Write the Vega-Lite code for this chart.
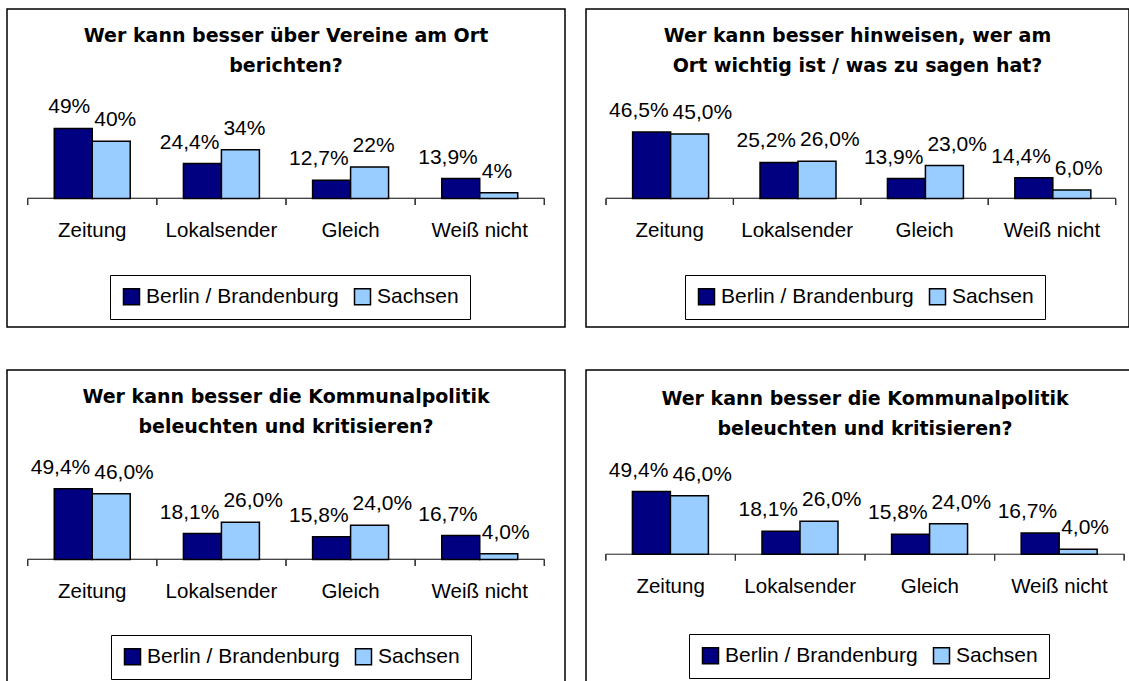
{
  "$schema": "https://vega.github.io/schema/vega-lite/v6.json",
  "background": "white",
  "padding": {"left": 6, "top": 8, "right": 0, "bottom": 0},
  "datasets": {
    "d": [
      {"panel": 1, "cat": "Zeitung", "series": "Berlin / Brandenburg", "value": 49, "label": "49%"},
      {"panel": 1, "cat": "Zeitung", "series": "Sachsen", "value": 40, "label": "40%"},
      {"panel": 1, "cat": "Lokalsender", "series": "Berlin / Brandenburg", "value": 24.4, "label": "24,4%"},
      {"panel": 1, "cat": "Lokalsender", "series": "Sachsen", "value": 34, "label": "34%"},
      {"panel": 1, "cat": "Gleich", "series": "Berlin / Brandenburg", "value": 12.7, "label": "12,7%"},
      {"panel": 1, "cat": "Gleich", "series": "Sachsen", "value": 22, "label": "22%"},
      {"panel": 1, "cat": "Weiß nicht", "series": "Berlin / Brandenburg", "value": 13.9, "label": "13,9%"},
      {"panel": 1, "cat": "Weiß nicht", "series": "Sachsen", "value": 4, "label": "4%"},
      {"panel": 2, "cat": "Zeitung", "series": "Berlin / Brandenburg", "value": 46.5, "label": "46,5%"},
      {"panel": 2, "cat": "Zeitung", "series": "Sachsen", "value": 45.0, "label": "45,0%"},
      {"panel": 2, "cat": "Lokalsender", "series": "Berlin / Brandenburg", "value": 25.2, "label": "25,2%"},
      {"panel": 2, "cat": "Lokalsender", "series": "Sachsen", "value": 26.0, "label": "26,0%"},
      {"panel": 2, "cat": "Gleich", "series": "Berlin / Brandenburg", "value": 13.9, "label": "13,9%"},
      {"panel": 2, "cat": "Gleich", "series": "Sachsen", "value": 23.0, "label": "23,0%"},
      {"panel": 2, "cat": "Weiß nicht", "series": "Berlin / Brandenburg", "value": 14.4, "label": "14,4%"},
      {"panel": 2, "cat": "Weiß nicht", "series": "Sachsen", "value": 6.0, "label": "6,0%"},
      {"panel": 3, "cat": "Zeitung", "series": "Berlin / Brandenburg", "value": 49.4, "label": "49,4%"},
      {"panel": 3, "cat": "Zeitung", "series": "Sachsen", "value": 46.0, "label": "46,0%"},
      {"panel": 3, "cat": "Lokalsender", "series": "Berlin / Brandenburg", "value": 18.1, "label": "18,1%"},
      {"panel": 3, "cat": "Lokalsender", "series": "Sachsen", "value": 26.0, "label": "26,0%"},
      {"panel": 3, "cat": "Gleich", "series": "Berlin / Brandenburg", "value": 15.8, "label": "15,8%"},
      {"panel": 3, "cat": "Gleich", "series": "Sachsen", "value": 24.0, "label": "24,0%"},
      {"panel": 3, "cat": "Weiß nicht", "series": "Berlin / Brandenburg", "value": 16.7, "label": "16,7%"},
      {"panel": 3, "cat": "Weiß nicht", "series": "Sachsen", "value": 4.0, "label": "4,0%"},
      {"panel": 4, "cat": "Zeitung", "series": "Berlin / Brandenburg", "value": 49.4, "label": "49,4%"},
      {"panel": 4, "cat": "Zeitung", "series": "Sachsen", "value": 46.0, "label": "46,0%"},
      {"panel": 4, "cat": "Lokalsender", "series": "Berlin / Brandenburg", "value": 18.1, "label": "18,1%"},
      {"panel": 4, "cat": "Lokalsender", "series": "Sachsen", "value": 26.0, "label": "26,0%"},
      {"panel": 4, "cat": "Gleich", "series": "Berlin / Brandenburg", "value": 15.8, "label": "15,8%"},
      {"panel": 4, "cat": "Gleich", "series": "Sachsen", "value": 24.0, "label": "24,0%"},
      {"panel": 4, "cat": "Weiß nicht", "series": "Berlin / Brandenburg", "value": 16.7, "label": "16,7%"},
      {"panel": 4, "cat": "Weiß nicht", "series": "Sachsen", "value": 4.0, "label": "4,0%"}
    ]
  },
  "data": {"name": "d"},
  "spacing": 41,
  "resolve": {"scale": {"color": "independent"}},
  "vconcat": [
    {
      "spacing": 19,
      "resolve": {"scale": {"color": "independent"}},
      "hconcat": [
        {
          "width": 558, "height": 318,
          "title": {"text": ["Wer kann besser über Vereine am Ort", "berichten?"], "offset": -67},
          "transform": [{"filter": "datum.panel == 1"}],
          "encoding": {
            "x": {"field": "cat", "type": "nominal", "sort": ["Zeitung", "Lokalsender", "Gleich", "Weiß nicht"], "scale": {"paddingInner": 0, "paddingOuter": 0.16}, "axis": null},
            "y": {"field": "value", "type": "quantitative", "scale": {"domain": [-89.9, 132.5], "nice": false, "zero": false}, "axis": null}
          },
          "layer": [
            {"mark": {"type": "tick", "orient": "horizontal", "size": 129.2, "thickness": 1.2, "color": "#333"},
             "encoding": {"y": {"datum": 0, "type": "quantitative"}}},
            {"mark": {"type": "rule", "color": "#333", "strokeWidth": 1.2},
             "encoding": {"x": {"field": "cat", "type": "nominal", "bandPosition": 0, "sort": ["Zeitung", "Lokalsender", "Gleich", "Weiß nicht"]},
                          "y": {"datum": 0, "type": "quantitative"}, "y2": {"datum": -4.5}}},
            {"transform": [{"filter": "datum.cat == 'Weiß nicht'"}],
             "mark": {"type": "rule", "color": "#333", "strokeWidth": 1.2},
             "encoding": {"x": {"field": "cat", "type": "nominal", "bandPosition": 1, "sort": ["Zeitung", "Lokalsender", "Gleich", "Weiß nicht"]},
                          "y": {"datum": 0, "type": "quantitative"}, "y2": {"datum": -4.5}}},
            {"mark": {"type": "bar", "stroke": "black", "strokeWidth": 1.5},
             "encoding": {
               "xOffset": {"field": "series", "type": "nominal", "sort": ["Berlin / Brandenburg", "Sachsen"], "scale": {"paddingInner": 0, "paddingOuter": 0.7}},
               "y2": {"datum": 0},
               "color": {"field": "series", "type": "nominal", "scale": {"domain": ["Berlin / Brandenburg", "Sachsen"], "range": ["#000080", "#99CCFF"]},
                         "legend": {"title": null, "orient": "none", "legendX": 103, "legendY": 266, "direction": "horizontal", "padding": 11, "strokeColor": "black", "fillColor": "white", "symbolType": "square", "symbolSize": 256, "symbolStrokeColor": "black", "symbolStrokeWidth": 1.5, "symbolOpacity": 1, "labelFontSize": 21, "labelFont": "Liberation Sans", "labelColor": "black", "labelOffset": 4, "columnPadding": 12, "labelLimit": 0}}
             }},
            {"transform": [{"filter": "datum.series == 'Berlin / Brandenburg'"}],
             "mark": {"type": "text", "align": "right", "baseline": "alphabetic", "dx": 17, "dy": -15, "fontSize": 21, "font": "Liberation Sans", "color": "black"},
             "encoding": {"xOffset": {"field": "series", "type": "nominal", "sort": ["Berlin / Brandenburg", "Sachsen"], "scale": {"paddingInner": 0, "paddingOuter": 0.7}}, "text": {"field": "label"}}},
            {"transform": [{"filter": "datum.series == 'Sachsen'"}],
             "mark": {"type": "text", "align": "left", "baseline": "alphabetic", "dx": -17, "dy": -15, "fontSize": 21, "font": "Liberation Sans", "color": "black"},
             "encoding": {"xOffset": {"field": "series", "type": "nominal", "sort": ["Berlin / Brandenburg", "Sachsen"], "scale": {"paddingInner": 0, "paddingOuter": 0.7}}, "text": {"field": "label"}}},
            {"transform": [{"filter": "datum.series == 'Sachsen'"}],
             "mark": {"type": "text", "align": "center", "baseline": "middle", "dy": 32.7, "fontSize": 20.5, "font": "Liberation Sans", "color": "black"},
             "encoding": {"y": {"datum": 0, "type": "quantitative"}, "text": {"field": "cat"}}}
          ]
        },
        {
          "width": 543, "height": 318,
          "title": {"text": ["Wer kann besser hinweisen, wer am", "Ort wichtig ist / was zu sagen hat?"], "offset": -67},
          "transform": [{"filter": "datum.panel == 2"}],
          "encoding": {
            "x": {"field": "cat", "type": "nominal", "sort": ["Zeitung", "Lokalsender", "Gleich", "Weiß nicht"], "scale": {"paddingInner": 0, "paddingOuter": 0.131, "align": 0.6}, "axis": null},
            "y": {"field": "value", "type": "quantitative", "scale": {"domain": [-89.9, 132.5], "nice": false, "zero": false}, "axis": null}
          },
          "layer": [
            {"mark": {"type": "tick", "orient": "horizontal", "size": 127.4, "thickness": 1.2, "color": "#333"},
             "encoding": {"y": {"datum": 0, "type": "quantitative"}}},
            {"mark": {"type": "rule", "color": "#333", "strokeWidth": 1.2},
             "encoding": {"x": {"field": "cat", "type": "nominal", "bandPosition": 0, "sort": ["Zeitung", "Lokalsender", "Gleich", "Weiß nicht"]},
                          "y": {"datum": 0, "type": "quantitative"}, "y2": {"datum": -4.5}}},
            {"transform": [{"filter": "datum.cat == 'Weiß nicht'"}],
             "mark": {"type": "rule", "color": "#333", "strokeWidth": 1.2},
             "encoding": {"x": {"field": "cat", "type": "nominal", "bandPosition": 1, "sort": ["Zeitung", "Lokalsender", "Gleich", "Weiß nicht"]},
                          "y": {"datum": 0, "type": "quantitative"}, "y2": {"datum": -4.5}}},
            {"mark": {"type": "bar", "stroke": "black", "strokeWidth": 1.5},
             "encoding": {
               "xOffset": {"field": "series", "type": "nominal", "sort": ["Berlin / Brandenburg", "Sachsen"], "scale": {"paddingInner": 0, "paddingOuter": 0.72}},
               "y2": {"datum": 0},
               "color": {"field": "series", "type": "nominal", "scale": {"domain": ["Berlin / Brandenburg", "Sachsen"], "range": ["#000080", "#99CCFF"]},
                         "legend": {"title": null, "orient": "none", "legendX": 99, "legendY": 266, "direction": "horizontal", "padding": 11, "strokeColor": "black", "fillColor": "white", "symbolType": "square", "symbolSize": 256, "symbolStrokeColor": "black", "symbolStrokeWidth": 1.5, "symbolOpacity": 1, "labelFontSize": 21, "labelFont": "Liberation Sans", "labelColor": "black", "labelOffset": 4, "columnPadding": 12, "labelLimit": 0}}
             }},
            {"transform": [{"filter": "datum.series == 'Berlin / Brandenburg'"}],
             "mark": {"type": "text", "align": "right", "baseline": "alphabetic", "dx": 17, "dy": -15, "fontSize": 21, "font": "Liberation Sans", "color": "black"},
             "encoding": {"xOffset": {"field": "series", "type": "nominal", "sort": ["Berlin / Brandenburg", "Sachsen"], "scale": {"paddingInner": 0, "paddingOuter": 0.72}}, "text": {"field": "label"}}},
            {"transform": [{"filter": "datum.series == 'Sachsen'"}],
             "mark": {"type": "text", "align": "left", "baseline": "alphabetic", "dx": -17, "dy": -15, "fontSize": 21, "font": "Liberation Sans", "color": "black"},
             "encoding": {"xOffset": {"field": "series", "type": "nominal", "sort": ["Berlin / Brandenburg", "Sachsen"], "scale": {"paddingInner": 0, "paddingOuter": 0.72}}, "text": {"field": "label"}}},
            {"transform": [{"filter": "datum.series == 'Sachsen'"}],
             "mark": {"type": "text", "align": "center", "baseline": "middle", "dy": 32.7, "fontSize": 20.5, "font": "Liberation Sans", "color": "black"},
             "encoding": {"y": {"datum": 0, "type": "quantitative"}, "text": {"field": "cat"}}}
          ]
        }
      ]
    },
    {
      "spacing": 19,
      "resolve": {"scale": {"color": "independent"}},
      "hconcat": [
        {
          "width": 558, "height": 318,
          "title": {"text": ["Wer kann besser die Kommunalpolitik", "beleuchten und kritisieren?"], "offset": -67},
          "transform": [{"filter": "datum.panel == 3"}],
          "encoding": {
            "x": {"field": "cat", "type": "nominal", "sort": ["Zeitung", "Lokalsender", "Gleich", "Weiß nicht"], "scale": {"paddingInner": 0, "paddingOuter": 0.16}, "axis": null},
            "y": {"field": "value", "type": "quantitative", "scale": {"domain": [-89.9, 132.5], "nice": false, "zero": false}, "axis": null}
          },
          "layer": [
            {"mark": {"type": "tick", "orient": "horizontal", "size": 129.2, "thickness": 1.2, "color": "#333"},
             "encoding": {"y": {"datum": 0, "type": "quantitative"}}},
            {"mark": {"type": "rule", "color": "#333", "strokeWidth": 1.2},
             "encoding": {"x": {"field": "cat", "type": "nominal", "bandPosition": 0, "sort": ["Zeitung", "Lokalsender", "Gleich", "Weiß nicht"]},
                          "y": {"datum": 0, "type": "quantitative"}, "y2": {"datum": -4.5}}},
            {"transform": [{"filter": "datum.cat == 'Weiß nicht'"}],
             "mark": {"type": "rule", "color": "#333", "strokeWidth": 1.2},
             "encoding": {"x": {"field": "cat", "type": "nominal", "bandPosition": 1, "sort": ["Zeitung", "Lokalsender", "Gleich", "Weiß nicht"]},
                          "y": {"datum": 0, "type": "quantitative"}, "y2": {"datum": -4.5}}},
            {"mark": {"type": "bar", "stroke": "black", "strokeWidth": 1.5},
             "encoding": {
               "xOffset": {"field": "series", "type": "nominal", "sort": ["Berlin / Brandenburg", "Sachsen"], "scale": {"paddingInner": 0, "paddingOuter": 0.7}},
               "y2": {"datum": 0},
               "color": {"field": "series", "type": "nominal", "scale": {"domain": ["Berlin / Brandenburg", "Sachsen"], "range": ["#000080", "#99CCFF"]},
                         "legend": {"title": null, "orient": "none", "legendX": 104, "legendY": 265, "direction": "horizontal", "padding": 11, "strokeColor": "black", "fillColor": "white", "symbolType": "square", "symbolSize": 256, "symbolStrokeColor": "black", "symbolStrokeWidth": 1.5, "symbolOpacity": 1, "labelFontSize": 21, "labelFont": "Liberation Sans", "labelColor": "black", "labelOffset": 4, "columnPadding": 12, "labelLimit": 0}}
             }},
            {"transform": [{"filter": "datum.series == 'Berlin / Brandenburg'"}],
             "mark": {"type": "text", "align": "right", "baseline": "alphabetic", "dx": 17, "dy": -15, "fontSize": 21, "font": "Liberation Sans", "color": "black"},
             "encoding": {"xOffset": {"field": "series", "type": "nominal", "sort": ["Berlin / Brandenburg", "Sachsen"], "scale": {"paddingInner": 0, "paddingOuter": 0.7}}, "text": {"field": "label"}}},
            {"transform": [{"filter": "datum.series == 'Sachsen'"}],
             "mark": {"type": "text", "align": "left", "baseline": "alphabetic", "dx": -17, "dy": -15, "fontSize": 21, "font": "Liberation Sans", "color": "black"},
             "encoding": {"xOffset": {"field": "series", "type": "nominal", "sort": ["Berlin / Brandenburg", "Sachsen"], "scale": {"paddingInner": 0, "paddingOuter": 0.7}}, "text": {"field": "label"}}},
            {"transform": [{"filter": "datum.series == 'Sachsen'"}],
             "mark": {"type": "text", "align": "center", "baseline": "middle", "dy": 32.7, "fontSize": 20.5, "font": "Liberation Sans", "color": "black"},
             "encoding": {"y": {"datum": 0, "type": "quantitative"}, "text": {"field": "cat"}}}
          ]
        },
        {
          "width": 558, "height": 318,
          "title": {"text": ["Wer kann besser die Kommunalpolitik", "beleuchten und kritisieren?"], "offset": -68.5},
          "transform": [{"filter": "datum.panel == 4"}],
          "encoding": {
            "x": {"field": "cat", "type": "nominal", "sort": ["Zeitung", "Lokalsender", "Gleich", "Weiß nicht"], "scale": {"paddingInner": 0, "paddingOuter": 0.153}, "axis": null},
            "y": {"field": "value", "type": "quantitative", "scale": {"domain": [-105.3, 145.1], "nice": false, "zero": false}, "axis": null}
          },
          "layer": [
            {"mark": {"type": "tick", "orient": "horizontal", "size": 129.6, "thickness": 1.2, "color": "#333"},
             "encoding": {"y": {"datum": 0, "type": "quantitative"}}},
            {"mark": {"type": "rule", "color": "#333", "strokeWidth": 1.2},
             "encoding": {"x": {"field": "cat", "type": "nominal", "bandPosition": 0, "sort": ["Zeitung", "Lokalsender", "Gleich", "Weiß nicht"]},
                          "y": {"datum": 0, "type": "quantitative"}, "y2": {"datum": -5}}},
            {"transform": [{"filter": "datum.cat == 'Weiß nicht'"}],
             "mark": {"type": "rule", "color": "#333", "strokeWidth": 1.2},
             "encoding": {"x": {"field": "cat", "type": "nominal", "bandPosition": 1, "sort": ["Zeitung", "Lokalsender", "Gleich", "Weiß nicht"]},
                          "y": {"datum": 0, "type": "quantitative"}, "y2": {"datum": -5}}},
            {"mark": {"type": "bar", "stroke": "black", "strokeWidth": 1.5},
             "encoding": {
               "xOffset": {"field": "series", "type": "nominal", "sort": ["Berlin / Brandenburg", "Sachsen"], "scale": {"paddingInner": 0, "paddingOuter": 0.7}},
               "y2": {"datum": 0},
               "color": {"field": "series", "type": "nominal", "scale": {"domain": ["Berlin / Brandenburg", "Sachsen"], "range": ["#000080", "#99CCFF"]},
                         "legend": {"title": null, "orient": "none", "legendX": 103, "legendY": 264, "direction": "horizontal", "padding": 11, "strokeColor": "black", "fillColor": "white", "symbolType": "square", "symbolSize": 256, "symbolStrokeColor": "black", "symbolStrokeWidth": 1.5, "symbolOpacity": 1, "labelFontSize": 21, "labelFont": "Liberation Sans", "labelColor": "black", "labelOffset": 4, "columnPadding": 12, "labelLimit": 0}}
             }},
            {"transform": [{"filter": "datum.series == 'Berlin / Brandenburg'"}],
             "mark": {"type": "text", "align": "right", "baseline": "alphabetic", "dx": 17, "dy": -15, "fontSize": 21, "font": "Liberation Sans", "color": "black"},
             "encoding": {"xOffset": {"field": "series", "type": "nominal", "sort": ["Berlin / Brandenburg", "Sachsen"], "scale": {"paddingInner": 0, "paddingOuter": 0.7}}, "text": {"field": "label"}}},
            {"transform": [{"filter": "datum.series == 'Sachsen'"}],
             "mark": {"type": "text", "align": "left", "baseline": "alphabetic", "dx": -17, "dy": -15, "fontSize": 21, "font": "Liberation Sans", "color": "black"},
             "encoding": {"xOffset": {"field": "series", "type": "nominal", "sort": ["Berlin / Brandenburg", "Sachsen"], "scale": {"paddingInner": 0, "paddingOuter": 0.7}}, "text": {"field": "label"}}},
            {"transform": [{"filter": "datum.series == 'Sachsen'"}],
             "mark": {"type": "text", "align": "center", "baseline": "middle", "dy": 32.7, "fontSize": 20.5, "font": "Liberation Sans", "color": "black"},
             "encoding": {"y": {"datum": 0, "type": "quantitative"}, "text": {"field": "cat"}}}
          ]
        }
      ]
    }
  ],
  "config": {
    "view": {"stroke": "black", "strokeWidth": 1.5},
    "title": {"font": "DejaVu Sans", "fontSize": 19, "fontWeight": "bold", "color": "black", "anchor": "middle", "frame": "group", "baseline": "top", "lineHeight": 30}
  }
}
